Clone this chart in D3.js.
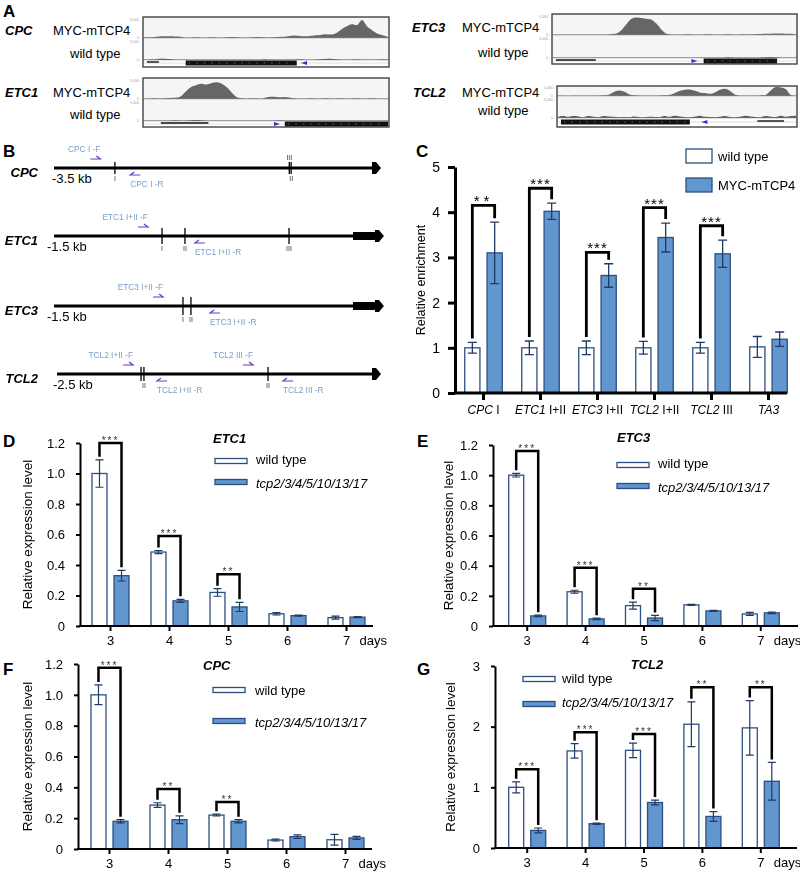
<!DOCTYPE html>
<html>
<head>
<meta charset="utf-8">
<script src="https://cdn.jsdelivr.net/npm/d3@7"></script>
<style>
  body { margin: 0; background: #fff; }
  svg { display: block; font-family: "Liberation Sans", Arial, sans-serif; }
  .site-label { opacity: 0.99; will-change: transform; }
</style>
</head>
<body>
<svg width="800" height="874"></svg>
<script>
// ---------- A: ChIP-seq coverage, 48 bins across each locus window (0..1 of track scale) ----------
const cpcMyc = [0.04,0.04,0.05,0.08,0.09,0.09,0.08,0.07, 0.03,0.03,0.04,0.03,0.03,0.04,0.03,0.03,
                0.04,0.05,0.04,0.03,0.03,0.04,0.05,0.04, 0.03,0.04,0.05,0.06,0.1,0.13,0.11,0.09,
                0.1,0.14,0.16,0.2,0.18,0.25,0.45,0.6, 0.72,0.68,0.95,0.6,0.4,0.22,0.14,0.05];
const cpcWt = [0.02,0.03,0.04,0.06,0.07,0.05,0.03,0.02, 0.02,0.03,0.02,0.02,0.03,0.02,0.02,0.03,
               0.02,0.03,0.02,0.02,0.03,0.02,0.02,0.04, 0.03,0.02,0.02,0.03,0.02,0.03,0.04,0.03,
               0.02,0.03,0.04,0.05,0.06,0.04,0.03,0.02, 0.03,0.04,0.03,0.02,0.02,0.03,0.04,0.02];
const etc1Myc = [0.03,0.03,0.04,0.03,0.04,0.05,0.06,0.12, 0.38,0.62,0.72,0.8,0.76,0.84,0.88,0.8,
                 0.6,0.3,0.08,0.04,0.03,0.04,0.03,0.04, 0.1,0.12,0.09,0.11,0.08,0.04,0.03,0.03,
                 0.04,0.03,0.03,0.04,0.03,0.03,0.04,0.03, 0.03,0.04,0.03,0.03,0.04,0.03,0.03,0.03];
const etc1Wt = [0.02,0.03,0.02,0.03,0.02,0.03,0.04,0.03, 0.03,0.04,0.05,0.04,0.03,0.02,0.03,0.02,
                0.02,0.03,0.02,0.02,0.03,0.02,0.02,0.03, 0.02,0.03,0.04,0.03,0.02,0.02,0.03,0.02,
                0.02,0.03,0.02,0.03,0.02,0.02,0.03,0.02, 0.03,0.02,0.02,0.03,0.02,0.03,0.02,0.02];
const etc3Myc = [0.03,0.03,0.03,0.02,0.03,0.03,0.03,0.02, 0.03,0.03,0.03,0.04,0.06,0.2,0.5,0.82,
                 0.92,0.9,0.86,0.82,0.6,0.28,0.06,0.03, 0.03,0.03,0.04,0.03,0.03,0.03,0.04,0.03,
                 0.03,0.03,0.04,0.03,0.03,0.04,0.03,0.04, 0.05,0.06,0.07,0.08,0.08,0.07,0.06,0.03];
const etc3Wt = [0.02,0.02,0.03,0.02,0.02,0.03,0.02,0.02, 0.03,0.02,0.02,0.03,0.02,0.02,0.03,0.02,
                0.02,0.03,0.02,0.02,0.03,0.02,0.02,0.03, 0.02,0.02,0.03,0.02,0.03,0.02,0.02,0.03,
                0.02,0.03,0.04,0.03,0.02,0.02,0.03,0.02, 0.03,0.04,0.05,0.04,0.03,0.03,0.02,0.02];
const tcl2Myc = [0.05,0.05,0.04,0.05,0.05,0.06,0.05,0.05, 0.06,0.08,0.15,0.45,0.62,0.5,0.2,0.08,
                 0.06,0.05,0.06,0.05,0.06,0.08,0.12,0.3, 0.55,0.7,0.72,0.58,0.4,0.32,0.25,0.4,
                 0.7,0.8,0.55,0.15,0.06,0.05,0.06,0.05, 0.08,0.12,0.6,1.0,0.95,0.75,0.12,0.05];
const tcl2Wt = [0.05,0.1,0.06,0.1,0.08,0.04,0.1,0.06, 0.04,0.1,0.08,0.06,0.04,0.05,0.04,0.08,
                0.05,0.04,0.06,0.05,0.04,0.1,0.06,0.12, 0.08,0.05,0.04,0.06,0.12,0.06,0.05,0.04,
                0.06,0.1,0.05,0.04,0.06,0.12,0.08,0.05, 0.04,0.1,0.06,0.05,0.12,0.06,0.1,0.12];

// gene annotation features, positions in % of the locus window
const cpcGenes = [{kind: "bar", from: 1.2, to: 6.1}, {kind: "gene", from: 17.1, to: 62.6}, {kind: "tss", at: 65.6, dir: -1}];
const etc1Genes = [{kind: "bar", from: 6.9, to: 26.4}, {kind: "tss", at: 54.5, dir: 1}, {kind: "gene", from: 57.7, to: 100}];
const etc3Genes = [{kind: "bar", from: 1.2, to: 17.6}, {kind: "tss", at: 58.2, dir: 1}, {kind: "gene", from: 62, to: 92.2}];
const tcl2Genes = [{kind: "gene", from: 1.25, to: 55.4}, {kind: "tss", at: 61.5, dir: -1}, {kind: "bar", from: 83.75, to: 95}];

// ---------- B: promoter maps (kb upstream of the start) ----------
const promoterGenes = ["CPC", "ETC1", "ETC3", "TCL2"];
const promoterKb = [-3.5, -1.5, -1.5, -2.5];
const exonKb = [0, 0.11, 0.11, 0];
const cpcSites = [{kb: -2.83, label: "I"}, {kb: -0.91, label: "III", above: true}, {kb: -0.89, label: "II"}];
const etc1Sites = [{kb: -0.958, label: "I"}, {kb: -0.843, label: "II"}, {kb: -0.321, label: "III"}];
const etc3Sites = [{kb: -0.853, label: "I"}, {kb: -0.813, label: "II"}];
const tcl2Sites = [{kb: -1.833, label: ""}, {kb: -1.81, label: "II"}, {kb: -0.825, label: "II"}];
const cpcPrimers = [{name: "CPC I -F", kb: -3.10, dir: 1}, {name: "CPC I -R", kb: -2.66, dir: -1}];
const etc1Primers = [{name: "ETC1 I+II -F", kb: -1.079, dir: 1}, {name: "ETC1 I+II -R", kb: -0.793, dir: -1}];
const etc3Primers = [{name: "ETC3 I+II -F", kb: -1.003, dir: 1}, {name: "ETC3 I+II -R", kb: -0.717, dir: -1}];
const tcl2Primers = [{name: "TCL2 I+II -F", kb: -1.976, dir: 1}, {name: "TCL2 I+II -R", kb: -1.706, dir: -1},
                     {name: "TCL2 III -F", kb: -1.024, dir: 1}, {name: "TCL2 III -R", kb: -0.706, dir: -1}];

// ---------- C: ChIP-qPCR ----------
const chipGene = ["CPC", "ETC1", "ETC3", "TCL2", "TCL2", "TA3"];
const chipRegion = ["I", "I+II", "I+II", "I+II", "III", ""];
const chipWT = [1.0, 1.0, 1.0, 1.0, 1.0, 1.02];
const chipWTErr = [0.12, 0.15, 0.15, 0.14, 0.12, 0.23];
const chipMYC = [3.1, 4.02, 2.6, 3.44, 3.08, 1.19];
const chipMYCErr = [0.68, 0.18, 0.26, 0.32, 0.3, 0.16];
const chipSig = ["**", "***", "***", "***", "***", ""];
const chipSigTop = [4.15, 4.53, 3.11, 4.1, 3.7, null];
const chipTicks = [0, 1, 2, 3, 4, 5];

// ---------- D-G: qRT-PCR time course ----------
const days = ["3", "4", "5", "6", "7"];
const fracTicks = [0, 0.2, 0.4, 0.6, 0.8, 1.0, 1.2];
const tcl2Ticks = [0, 1, 2, 3];

const etc1WT = [1.0, 0.485, 0.22, 0.08, 0.055];
const etc1WTErr = [0.09, 0.01, 0.025, 0.008, 0.01];
const etc1Mut = [0.33, 0.165, 0.125, 0.068, 0.058];
const etc1MutErr = [0.035, 0.01, 0.03, 0.004, 0.004];
const etc1Sig = ["***", "***", "**", "", ""];
const etc1SigTop = [1.2, 0.59, 0.34, null, null];

const etc3WT = [1.0, 0.227, 0.135, 0.14, 0.08];
const etc3WTErr = [0.012, 0.01, 0.023, 0.004, 0.01];
const etc3Mut = [0.067, 0.047, 0.053, 0.1, 0.087];
const etc3MutErr = [0.005, 0.005, 0.017, 0.003, 0.005];
const etc3Sig = ["***", "***", "**", "", ""];
const etc3SigTop = [1.16, 0.387, 0.247, null, null];

const cpcWT = [1.0, 0.285, 0.22, 0.058, 0.06];
const cpcWTErr = [0.064, 0.015, 0.006, 0.006, 0.035];
const cpcMut = [0.18, 0.19, 0.18, 0.08, 0.072];
const cpcMutErr = [0.01, 0.025, 0.01, 0.012, 0.01];
const cpcSig = ["***", "**", "**", "", ""];
const cpcSigTop = [1.175, 0.39, 0.305, null, null];

const tcl2WT = [1.0, 1.6, 1.61, 2.04, 1.98];
const tcl2WTErr = [0.09, 0.12, 0.12, 0.37, 0.45];
const tcl2Mut = [0.29, 0.4, 0.75, 0.52, 1.1];
const tcl2MutErr = [0.04, 0.01, 0.04, 0.08, 0.31];
const tcl2Sig = ["***", "***", "***", "**", "**"];
const tcl2SigTop = [1.3, 1.91, 1.88, 2.65, 2.65];

const blueFill = "#6196cf";
const blueStroke = "#2c4f80";
const errColor = "#1f3b66";
const primerText = "#7b9cc7";
const primerArrow = "#5a3ec0";

const svg = d3.select("svg");

function panelLabel(t, x, y) {
    svg.append("text").text(t).attr("x", x).attr("y", y)
        .attr("font-size", 17).attr("font-weight", "bold");
}
panelLabel("A", 3, 17);
panelLabel("B", 3, 157);
panelLabel("C", 416, 157);
panelLabel("D", 3, 447);
panelLabel("E", 417, 447);
panelLabel("F", 3, 675);
panelLabel("G", 417, 675);

// ================= A =================
const trackLayout = [
    {name: "CPC", myc: cpcMyc, wt: cpcWt, genes: cpcGenes, x0: 143, x1: 389, y0: 17, y1: 67,
        mycTop: 19, mycBase: 38, wtTop: 41, wtBase: 60, geneY: 63, nameX: 5, mycX: 53, wtX: 70, nameY: 35, wtY: 58},
    {name: "ETC1", myc: etc1Myc, wt: etc1Wt, genes: etc1Genes, x0: 143, x1: 389, y0: 78, y1: 127,
        mycTop: 80, mycBase: 99, wtTop: 102, wtBase: 121, geneY: 124, nameX: 5, mycX: 53, wtX: 70, nameY: 97, wtY: 119},
    {name: "ETC3", myc: etc3Myc, wt: etc3Wt, genes: etc3Genes, x0: 552, x1: 797, y0: 14, y1: 64,
        mycTop: 16, mycBase: 35, wtTop: 38, wtBase: 58, geneY: 61, nameX: 412, mycX: 462, wtX: 478, nameY: 32, wtY: 57},
    {name: "TCL2", myc: tcl2Myc, wt: tcl2Wt, genes: tcl2Genes, x0: 557, x1: 797, y0: 86, y1: 127,
        mycTop: 87, mycBase: 96, wtTop: 99, wtBase: 118, geneY: 122, nameX: 413, mycX: 462, wtX: 478, nameY: 97, wtY: 115},
];

trackLayout.forEach(t => {
    const g = svg.append("g");
    const x = d3.scaleLinear().domain([0, 100]).range([t.x0 + 1, t.x1 - 1]);
    const bx = d3.scaleLinear().domain([0, t.myc.length - 1]).range([t.x0 + 1, t.x1 - 1]);

    g.append("rect")
        .attr("x", t.x0).attr("y", t.y0)
        .attr("width", t.x1 - t.x0).attr("height", t.y1 - t.y0)
        .attr("fill", "#fff");
    g.append("rect")
        .attr("x", t.x0).attr("y", t.y0)
        .attr("width", t.x1 - t.x0).attr("height", t.wtBase - t.y0)
        .attr("fill", "#f5f5f5");

    [[t.myc, t.mycTop, t.mycBase, "#666"], [t.wt, t.wtTop, t.wtBase, "#555"]].forEach(([vals, top, base, col]) => {
        const y = d3.scaleLinear().domain([0, 1]).range([base, top]);
        g.append("path").datum(vals)
            .attr("d", d3.area()
                .x((d, i) => bx(i))
                .y0(base)
                .y1(d => y(d))
                .curve(d3.curveMonotoneX))
            .attr("fill", col);
        g.append("line")
            .attr("x1", t.x0).attr("x2", t.x1)
            .attr("y1", base).attr("y2", base)
            .attr("stroke", "#999").attr("stroke-width", 0.6);
        // tiny data-range marks at the left of the track
        g.append("text").text("5,000 -").attr("x", t.x0 - 2).attr("y", top + 1.5)
            .attr("text-anchor", "end").attr("font-size", 3.5).attr("fill", "#999");
        g.append("text").text("0 -").attr("x", t.x0 - 2).attr("y", base + 1)
            .attr("text-anchor", "end").attr("font-size", 3.5).attr("fill", "#999");
    });

    // gene annotation row
    g.append("line")
        .attr("x1", t.x0).attr("x2", t.x1)
        .attr("y1", t.geneY).attr("y2", t.geneY)
        .attr("stroke", "#bbb").attr("stroke-width", 0.5);
    t.genes.forEach(f => {
        if (f.kind === "bar") {
            g.append("line")
                .attr("x1", x(f.from)).attr("x2", x(f.to))
                .attr("y1", t.geneY - 1).attr("y2", t.geneY - 1)
                .attr("stroke", "#111").attr("stroke-width", 1.4);
        } else if (f.kind === "gene") {
            g.append("rect")
                .attr("x", x(f.from)).attr("y", t.geneY - 2.5)
                .attr("width", x(f.to) - x(f.from)).attr("height", 5)
                .attr("fill", "#111");
            g.append("line")
                .attr("x1", x(f.from) + 3).attr("x2", x(f.to) - 3)
                .attr("y1", t.geneY).attr("y2", t.geneY)
                .attr("stroke", "#777").attr("stroke-width", 0.8)
                .attr("stroke-dasharray", "1.5,6");
        } else {
            const cx = x(f.at);
            g.append("path")
                .attr("d", `M${cx - 3 * f.dir},${t.geneY - 2}L${cx + 3 * f.dir},${t.geneY}L${cx - 3 * f.dir},${t.geneY + 2}Z`)
                .attr("fill", "#3434d0");
        }
    });

    g.append("rect")
        .attr("x", t.x0).attr("y", t.y0)
        .attr("width", t.x1 - t.x0).attr("height", t.y1 - t.y0)
        .attr("fill", "none").attr("stroke", "#333").attr("stroke-width", 1.3);

    g.append("text").text(t.name).attr("x", t.nameX).attr("y", t.nameY)
        .attr("font-size", 13).attr("font-weight", "bold").attr("font-style", "italic");
    g.append("text").text("MYC-mTCP4").attr("x", t.mycX).attr("y", t.nameY).attr("font-size", 13);
    g.append("text").text("wild type").attr("x", t.wtX).attr("y", t.wtY).attr("font-size", 13);
});

// ================= B =================
const promoterRows = [
    {sites: cpcSites, primers: cpcPrimers, y: 168, x0: 54, x1: 372, tick: 6, kbX: 52},
    {sites: etc1Sites, primers: etc1Primers, y: 236, x0: 54, x1: 353, tick: 8, kbX: 47},
    {sites: etc3Sites, primers: etc3Primers, y: 306, x0: 54, x1: 353, tick: 9, kbX: 47},
    {sites: tcl2Sites, primers: tcl2Primers, y: 374, x0: 57, x1: 372, tick: 7, kbX: 53},
];

promoterRows.forEach((r, i) => {
    const g = svg.append("g");
    const x = d3.scaleLinear().domain([promoterKb[i], 0]).range([r.x0, r.x1]);
    const xEnd = x(exonKb[i]);

    g.append("line")
        .attr("x1", x(promoterKb[i])).attr("x2", xEnd + 2)
        .attr("y1", r.y).attr("y2", r.y)
        .attr("stroke", "#000").attr("stroke-width", 3);
    if (exonKb[i] > 0) {
        g.append("rect")
            .attr("x", x(0)).attr("y", r.y - 4)
            .attr("width", xEnd - x(0)).attr("height", 8)
            .attr("fill", "#000");
    }
    g.append("path")
        .attr("d", `M${xEnd},${r.y - 6}L${xEnd + 4},${r.y - 6}L${xEnd + 9},${r.y}L${xEnd + 4},${r.y + 6}L${xEnd},${r.y + 6}Z`)
        .attr("fill", "#000");

    g.append("text").text(promoterGenes[i]).attr("x", 38).attr("y", r.y + 9)
        .attr("text-anchor", "end").attr("font-size", 13)
        .attr("font-weight", "bold").attr("font-style", "italic");
    g.append("text").text(`${promoterKb[i]} kb`).attr("x", r.kbX).attr("y", r.y + 15)
        .attr("font-size", 13);

    r.sites.forEach(s => {
        g.append("line")
            .attr("x1", x(s.kb)).attr("x2", x(s.kb))
            .attr("y1", r.y - r.tick).attr("y2", r.y + r.tick)
            .attr("stroke", "#000").attr("stroke-width", 1.3);
        g.append("text").text(s.label)
            .attr("class", "site-label")
            .attr("x", x(s.kb))
            .attr("y", s.above ? r.y - r.tick - 2 : r.y + r.tick + 7)
            .attr("text-anchor", "middle").attr("font-size", 7)
            .attr("fill", "#333");
    });

    r.primers.forEach(p => {
        const a = x(p.kb), b = a + 10;
        const py = p.dir > 0 ? r.y - 9 : r.y + 7;
        const d = p.dir > 0
            ? `M${a},${py}L${b},${py}L${b - 4},${py - 3}`
            : `M${b},${py}L${a},${py}L${a + 4},${py - 3}`;
        g.append("path").attr("d", d)
            .attr("fill", "none").attr("stroke", primerArrow).attr("stroke-width", 1.2);
        g.append("text").text(p.name)
            .attr("x", p.dir > 0 ? b : a)
            .attr("y", p.dir > 0 ? py - 7 : py + 12)
            .attr("text-anchor", p.dir > 0 ? "end" : "start")
            .attr("font-size", 8.3).attr("fill", primerText);
    });
});

// ================= C =================
(function drawChip() {
    const g = svg.append("g");
    const idx = chipGene.map((d, i) => i);
    const x0 = d3.scaleBand().domain(idx).range([455, 797]);
    const x1 = d3.scaleBand().domain(["wt", "myc"]).range([-18.75, 18.75]).paddingInner(0.32);
    const y = d3.scaleLinear().domain([0, 5]).range([393, 167]);
    const cx = i => x0(i) + x0.bandwidth() / 2;
    const bw = x1.bandwidth();

    const series = [
        {key: "wt", vals: chipWT, errs: chipWTErr, fill: "#fff"},
        {key: "myc", vals: chipMYC, errs: chipMYCErr, fill: blueFill},
    ];
    series.forEach(s => {
        g.selectAll(null).data(s.vals).enter().append("rect")
            .attr("x", (d, i) => cx(i) + x1(s.key))
            .attr("y", d => y(d))
            .attr("width", bw)
            .attr("height", d => y(0) - y(d))
            .attr("fill", s.fill)
            .attr("stroke", blueStroke).attr("stroke-width", 1.3);
        s.vals.forEach((v, i) => {
            const mx = cx(i) + x1(s.key) + bw / 2;
            const e = s.errs[i];
            g.append("path")
                .attr("d", `M${mx},${y(v - e)}V${y(v + e)}M${mx - 4.5},${y(v - e)}H${mx + 4.5}M${mx - 4.5},${y(v + e)}H${mx + 4.5}`)
                .attr("stroke", errColor).attr("stroke-width", 1.3).attr("fill", "none");
        });
    });

    chipSig.forEach((s, i) => {
        if (!s) return;
        const lx = cx(i) + x1("wt") + bw / 2;
        const rx = cx(i) + x1("myc") + bw / 2;
        const top = y(chipSigTop[i]);
        g.append("path")
            .attr("d", `M${lx},${y(chipWT[i] + chipWTErr[i]) - 4}V${top}H${rx}V${y(chipMYC[i] + chipMYCErr[i]) - 4}`)
            .attr("fill", "none").attr("stroke", "#000").attr("stroke-width", 2.8);
        g.append("text").text(s)
            .attr("x", (lx + rx) / 2).attr("y", top + 1)
            .attr("text-anchor", "middle").attr("font-size", 15)
            .attr("letter-spacing", s.length === 2 ? 4 : 1);
    });

    // axes
    const ya = g.append("g").attr("transform", "translate(455,0)")
        .call(d3.axisLeft(y).tickValues(chipTicks).tickFormat(d3.format("d"))
            .tickSize(7).tickSizeOuter(0).tickPadding(8));
    ya.selectAll("path, line").attr("stroke-width", 3);
    ya.selectAll("text").attr("font-size", 14).attr("font-family", "Liberation Sans, Arial, sans-serif");

    const xa = g.append("g").attr("transform", "translate(0,393)")
        .call(d3.axisBottom(x0).tickSize(7).tickFormat(""));
    xa.select(".domain").remove();
    xa.selectAll("line").attr("stroke-width", 3);
    g.append("line").attr("x1", 454).attr("x2", 787).attr("y1", 393).attr("y2", 393)
        .attr("stroke", "#000").attr("stroke-width", 3);

    idx.forEach(i => {
        const t = g.append("text").attr("x", cx(i)).attr("y", 414)
            .attr("text-anchor", "middle").attr("font-size", 12);
        t.append("tspan").text(chipGene[i]).attr("font-style", "italic");
        if (chipRegion[i]) t.append("tspan").text(" " + chipRegion[i]);
    });

    g.append("text").text("Relative enrichment")
        .attr("transform", "translate(425,280) rotate(-90)")
        .attr("text-anchor", "middle").attr("font-size", 12.5);

    // legend
    [["wild type", "#fff", 156], ["MYC-mTCP4", blueFill, 185]].forEach(([lab, fill, cy]) => {
        g.append("rect").attr("x", 686).attr("y", cy - 7).attr("width", 26).attr("height", 14)
            .attr("fill", fill).attr("stroke", blueStroke).attr("stroke-width", 1.3);
        g.append("text").text(lab).attr("x", 718).attr("y", cy + 5).attr("font-size", 13);
    });
})();

// ================= D-G =================
const exprPanels = [
    {gene: "ETC1", wt: etc1WT, wtErr: etc1WTErr, mut: etc1Mut, mutErr: etc1MutErr, sig: etc1Sig, sigTop: etc1SigTop, ticks: fracTicks,
        axisX: 80, xRange: [81, 376], xEnd: 373, yRange: [626, 443],
        titleX: 213, titleY: 443, titleAnchor: "start", legX: 215, legY: [461, 482], legTextX: 256, legTextY: [464, 488], labelX: 27},
    {gene: "ETC3", wt: etc3WT, wtErr: etc3WTErr, mut: etc3Mut, mutErr: etc3MutErr, sig: etc3Sig, sigTop: etc3SigTop, ticks: fracTicks,
        axisX: 493, xRange: [498, 790], xEnd: 798, yRange: [626, 445],
        titleX: 617, titleY: 442, titleAnchor: "start", legX: 617, legY: [465, 486], legTextX: 658, legTextY: [468, 492], labelX: 448},
    {gene: "CPC", wt: cpcWT, wtErr: cpcWTErr, mut: cpcMut, mutErr: cpcMutErr, sig: cpcSig, sigTop: cpcSigTop, ticks: fracTicks,
        axisX: 78, xRange: [80, 375], xEnd: 372, yRange: [849, 664],
        titleX: 203, titleY: 670, titleAnchor: "start", legX: 213, legY: [690, 721], legTextX: 255, legTextY: [695, 727], labelX: 27},
    {gene: "TCL2", wt: tcl2WT, wtErr: tcl2WTErr, mut: tcl2Mut, mutErr: tcl2MutErr, sig: tcl2Sig, sigTop: tcl2SigTop, ticks: tcl2Ticks,
        axisX: 495, xRange: [498, 790], xEnd: 797, yRange: [848, 666],
        titleX: 647, titleY: 669, titleAnchor: "middle", legX: 523, legY: [679, 704], legTextX: 562, legTextY: [683, 707], labelX: 450},
];

exprPanels.forEach(p => {
    const g = svg.append("g");
    const x0 = d3.scaleBand().domain(days).range(p.xRange);
    const x1 = d3.scaleBand().domain(["wt", "mut"]).range([-18.5, 18.5]).paddingInner(0.32);
    const yMax = p.ticks[p.ticks.length - 1];
    const y = d3.scaleLinear().domain([0, yMax]).range(p.yRange);
    const cx = d => x0(d) + x0.bandwidth() / 2;
    const bw = x1.bandwidth();
    const y0 = p.yRange[0];

    const series = [
        {key: "wt", vals: p.wt, errs: p.wtErr, fill: "#fff"},
        {key: "mut", vals: p.mut, errs: p.mutErr, fill: blueFill},
    ];
    series.forEach(s => {
        g.selectAll(null).data(s.vals).enter().append("rect")
            .attr("x", (d, i) => cx(days[i]) + x1(s.key))
            .attr("y", d => y(d))
            .attr("width", bw)
            .attr("height", d => y0 - y(d))
            .attr("fill", s.fill)
            .attr("stroke", blueStroke).attr("stroke-width", 1.3);
        s.vals.forEach((v, i) => {
            const mx = cx(days[i]) + x1(s.key) + bw / 2;
            const e = s.errs[i];
            g.append("path")
                .attr("d", `M${mx},${y(v - e)}V${y(v + e)}M${mx - 4},${y(v - e)}H${mx + 4}M${mx - 4},${y(v + e)}H${mx + 4}`)
                .attr("stroke", errColor).attr("stroke-width", 1.2).attr("fill", "none");
        });
    });

    p.sig.forEach((s, i) => {
        if (!s) return;
        const lx = cx(days[i]) + x1("wt") + bw / 2;
        const rx = cx(days[i]) + x1("mut") + bw / 2;
        const top = y(p.sigTop[i]);
        g.append("path")
            .attr("d", `M${lx},${y(p.wt[i] + p.wtErr[i]) - 3}V${top}H${rx}V${y(p.mut[i] + p.mutErr[i]) - 3}`)
            .attr("fill", "none").attr("stroke", "#000").attr("stroke-width", 2.5);
        g.append("text").text(s)
            .attr("x", (lx + rx) / 2).attr("y", top + 1)
            .attr("text-anchor", "middle").attr("font-size", 10).attr("fill", "#333")
            .attr("letter-spacing", 2);
    });

    const ya = g.append("g").attr("transform", `translate(${p.axisX},0)`)
        .call(d3.axisLeft(y).tickValues(p.ticks)
            .tickFormat(d => d === 0 ? "0" : (yMax > 2 ? d3.format("d")(d) : d3.format(".1f")(d)))
            .tickSize(4).tickSizeOuter(0).tickPadding(11));
    ya.selectAll("path, line").attr("stroke-width", 2);
    ya.selectAll("text").attr("font-size", 13).attr("font-family", "Liberation Sans, Arial, sans-serif");

    const xa = g.append("g").attr("transform", `translate(0,${y0})`)
        .call(d3.axisBottom(x0).tickSize(5).tickPadding(5));
    xa.select(".domain").remove();
    xa.selectAll("line").attr("stroke-width", 2);
    xa.selectAll("text").attr("font-size", 13).attr("font-family", "Liberation Sans, Arial, sans-serif");
    g.append("line").attr("x1", p.axisX - 1).attr("x2", p.xEnd).attr("y1", y0).attr("y2", y0)
        .attr("stroke", "#000").attr("stroke-width", 2);
    g.append("text").text("days")
        .attr("x", cx(days[days.length - 1]) + 13).attr("y", y0 + 19)
        .attr("font-size", 13);

    g.append("text").text("Relative expression level")
        .attr("transform", `translate(${p.labelX},${(p.yRange[0] + p.yRange[1]) / 2}) rotate(-90)`)
        .attr("text-anchor", "middle").attr("dy", "0.35em").attr("font-size", 13.5);

    // legend
    g.append("text").text(p.gene).attr("x", p.titleX).attr("y", p.titleY)
        .attr("text-anchor", p.titleAnchor).attr("font-size", 13)
        .attr("font-weight", "bold").attr("font-style", "italic");
    [["wild type", "#fff", "normal"], ["tcp2/3/4/5/10/13/17", blueFill, "italic"]].forEach(([lab, fill, style], k) => {
        g.append("rect").attr("x", p.legX).attr("y", p.legY[k] - 2.5).attr("width", 32).attr("height", 5)
            .attr("fill", fill).attr("stroke", blueStroke).attr("stroke-width", 1.3);
        g.append("text").text(lab).attr("x", p.legTextX).attr("y", p.legTextY[k])
            .attr("font-size", 13).attr("font-style", style);
    });
});
</script>
</body>
</html>
